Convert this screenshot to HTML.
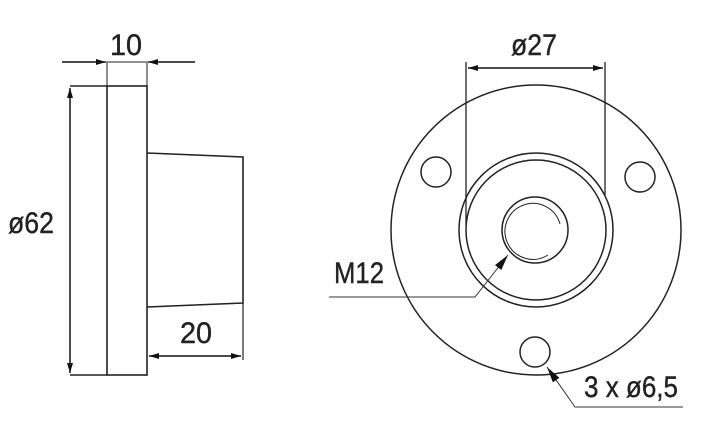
<!DOCTYPE html>
<html><head><meta charset="utf-8"><style>html,body{margin:0;padding:0;background:#fff}svg{display:block}</style></head>
<body>
<svg width="724" height="425" viewBox="0 0 724 425" xmlns="http://www.w3.org/2000/svg">
<defs>
<marker id="a" viewBox="0 0 10 6" refX="10" refY="3" markerWidth="10" markerHeight="6" orient="auto-start-reverse" markerUnits="userSpaceOnUse"><path d="M0,0 L10,3 L0,6 z" fill="#111"/></marker>
<marker id="b" viewBox="0 0 16 8" refX="16" refY="4" markerWidth="16" markerHeight="8" orient="auto" markerUnits="userSpaceOnUse"><path d="M0,0 L16,4 L0,8 z" fill="#111"/></marker>
</defs>
<g fill="none" stroke="#222" stroke-width="1.6">
<rect x="107" y="86" width="40" height="289"/>
<line x1="70" y1="86" x2="107" y2="86"/>
<line x1="70" y1="375" x2="107" y2="375"/>
<path d="M147,153 L243,157 L243,303 L147,307"/>
<line x1="243" y1="303" x2="243" y2="360" stroke-width="1.2"/>
<path d="M107,86 V62 H147 V86" stroke-width="1"/>
</g>
<g stroke="#111" stroke-width="1.5" fill="none">
<line x1="70" y1="88" x2="70" y2="373" marker-start="url(#a)" marker-end="url(#a)"/>
<line x1="62" y1="62" x2="106" y2="62" marker-end="url(#a)"/>
<line x1="195" y1="62" x2="148" y2="62" marker-end="url(#a)"/>
<line x1="149" y1="356" x2="241" y2="356" marker-start="url(#a)" marker-end="url(#a)"/>
</g>
<g fill="none" stroke="#222" stroke-width="1.5">
<circle cx="536" cy="230" r="145"/>
<circle cx="536" cy="230" r="77"/>
<circle cx="536" cy="230" r="70"/>
<circle cx="535" cy="230" r="33"/>
<path d="M560,224 A28,28 0 1 0 548,255" stroke-width="1"/>
<circle cx="436" cy="172" r="15"/>
<circle cx="640" cy="177" r="15"/>
<circle cx="535" cy="352" r="15"/>
<line x1="466" y1="62" x2="466" y2="225" stroke-width="1.3"/>
<line x1="605" y1="62" x2="605" y2="195" stroke-width="1.3"/>
</g>
<line x1="468" y1="68" x2="603" y2="68" stroke="#111" stroke-width="1.5" marker-start="url(#a)" marker-end="url(#a)"/>
<g stroke="#333" stroke-width="1" fill="none">
<polyline points="329,297 475,297 508,255" marker-end="url(#b)"/>
<polyline points="683,407 575,407 547,367" marker-end="url(#b)"/>
</g>
<g font-family="'Liberation Sans Narrow','Liberation Sans',sans-serif" font-size="30" fill="#222" stroke="#222" stroke-width="0.4">
<text x="110" y="55" textLength="32" lengthAdjust="spacingAndGlyphs">10</text>
<text x="8" y="233" textLength="46" lengthAdjust="spacingAndGlyphs">ø62</text>
<text x="180" y="343" textLength="32" lengthAdjust="spacingAndGlyphs">20</text>
<text x="511" y="55" textLength="46" lengthAdjust="spacingAndGlyphs">ø27</text>
<text x="334" y="283" textLength="50" lengthAdjust="spacingAndGlyphs">M12</text>
<text x="584" y="397" textLength="94" lengthAdjust="spacingAndGlyphs">3 x ø6,5</text>
</g>
</svg>
</body></html>
